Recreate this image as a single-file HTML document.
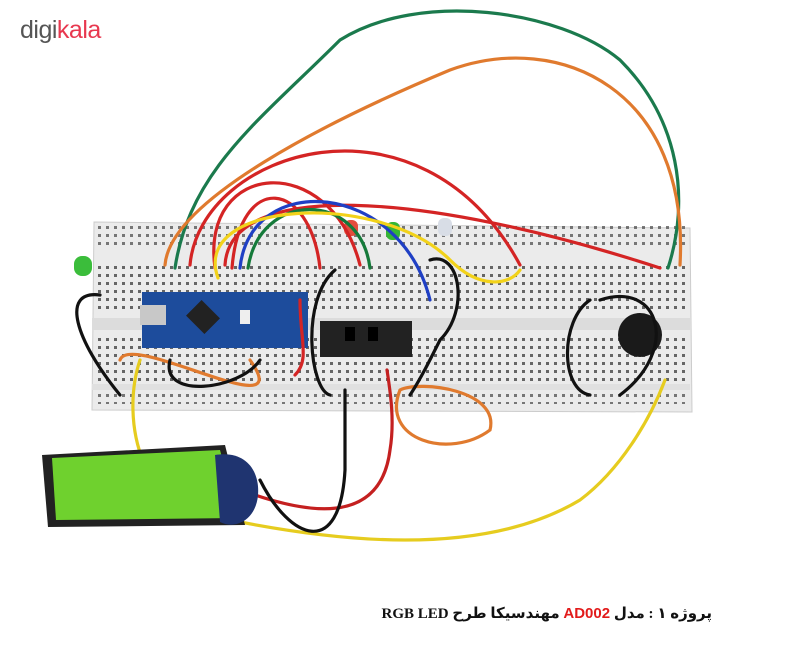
<!DOCTYPE html>
<html><head><meta charset="utf-8"><style>
html,body{margin:0;padding:0;background:#fff;}
body{width:800px;height:667px;position:relative;overflow:hidden;font-family:"Liberation Sans",sans-serif;}
.logo{position:absolute;left:20px;top:16px;font-size:25px;letter-spacing:-0.5px;}
.cap{position:absolute;left:300px;top:604px;width:412px;text-align:right;font-size:15px;font-weight:bold;direction:rtl;white-space:nowrap;font-family:"Liberation Serif","DejaVu Sans",serif;color:#111;}
</style></head><body>
<svg width="800" height="667" style="position:absolute;left:0;top:0">
<defs>
<pattern id="holes" width="8" height="8" patternUnits="userSpaceOnUse"><rect x="2" y="2" width="3" height="3" fill="#444"/></pattern>
</defs>
<polygon points="94,222 690,228 692,412 92,410" fill="#ebebeb" stroke="#ccc"/>
<rect x="96" y="226" width="592" height="22" fill="url(#holes)" opacity="0.7"/>
<rect x="96" y="262" width="592" height="52" fill="url(#holes)" opacity="0.8"/>
<rect x="96" y="334" width="592" height="50" fill="url(#holes)" opacity="0.8"/>
<rect x="96" y="390" width="592" height="14" fill="url(#holes)" opacity="0.7"/>
<rect x="92" y="318" width="598" height="12" fill="#dcdcdc"/>
<rect x="92" y="384" width="598" height="6" fill="#e0e0e0"/>
<rect x="142" y="292" width="166" height="56" fill="#1d4c9c"/>
<rect x="190" y="306" width="26" height="22" fill="#222" transform="rotate(45 203 317)"/>
<rect x="140" y="305" width="26" height="20" fill="#c8c8c8"/>
<rect x="240" y="310" width="10" height="14" fill="#eee"/>
<rect x="320" y="321" width="92" height="36" fill="#222"/>
<rect x="345" y="327" width="10" height="14" fill="#000"/>
<rect x="368" y="327" width="10" height="14" fill="#000"/>
<circle cx="640" cy="335" r="22" fill="#1a1a1a"/>
<rect x="74" y="256" width="18" height="20" rx="8" fill="#3bbd3b"/>
<rect x="386" y="222" width="14" height="18" rx="6" fill="#35b635"/>
<rect x="344" y="220" width="14" height="16" rx="6" fill="#e34c3c"/>
<rect x="438" y="218" width="14" height="18" rx="6" fill="#d8dde6"/>
<g fill="none" stroke-width="3.2" stroke-linecap="round">
<path d="M175,268 C190,170 260,120 340,40 C420,-10 560,10 620,60 C680,120 690,200 668,268" stroke="#1b7a4d"/>
<path d="M165,265 C170,200 330,120 450,70 C560,30 690,90 680,265" stroke="#e07a2e"/>
<path d="M190,265 C200,150 420,80 520,265" stroke="#d42424"/>
<path d="M215,268 C200,160 330,150 360,265" stroke="#d42424"/>
<path d="M225,265 C230,180 420,190 660,268" stroke="#d42424"/>
<path d="M232,268 C240,170 310,180 320,268" stroke="#d42424"/>
<path d="M240,268 C250,170 400,180 430,300" stroke="#1f3fc4"/>
<path d="M248,268 C260,190 360,190 370,268" stroke="#157a3a"/>
<path d="M218,278 C190,200 380,190 450,260 C480,290 510,285 520,270" stroke="#f2d21a"/>
<path d="M140,360 C120,420 140,520 230,520 C330,540 480,560 580,500 C620,470 650,420 665,380" stroke="#e6cc1f"/>
<path d="M120,360 C130,330 300,430 250,360" stroke="#e07a2e"/>
<path d="M400,390 C380,440 450,460 490,430 C500,390 420,380 400,390" stroke="#e07a2e"/>
<path d="M255,495 C300,510 380,530 390,450 C395,420 390,390 387,370" stroke="#c42020"/>
<path d="M260,480 C290,540 340,560 345,470 L345,390" stroke="#111"/>
<path d="M100,295 C60,290 75,340 120,395" stroke="#111"/>
<path d="M170,360 C160,400 240,390 260,360" stroke="#111"/>
<path d="M335,270 C300,300 310,390 330,395" stroke="#111"/>
<path d="M430,260 C460,250 470,310 440,340 C430,360 420,380 410,395" stroke="#111"/>
<path d="M590,300 C560,320 560,390 590,395" stroke="#111"/>
<path d="M600,300 C660,280 680,350 620,395" stroke="#111"/>
<path d="M300,300 C300,340 310,360 295,375" stroke="#d42424"/>
</g>
<polygon points="42,455 225,445 245,525 48,527" fill="#222"/>
<polygon points="52,458 220,450 238,518 56,520" fill="#6fd12e"/>
<path d="M215,455 C245,450 260,470 258,495 C256,520 235,530 220,522 Z" fill="#1f3470"/>
</svg>
<div class="logo"><span style="color:#555">digi</span><span style="color:#e8384f">kala</span></div>
<div class="cap">پروژه ۱ :  مدل <span style="color:#e21b1b;font-family:'Liberation Sans',sans-serif">AD002</span> مهندسیکا طرح <span dir="ltr">RGB LED</span></div>
</body></html>
